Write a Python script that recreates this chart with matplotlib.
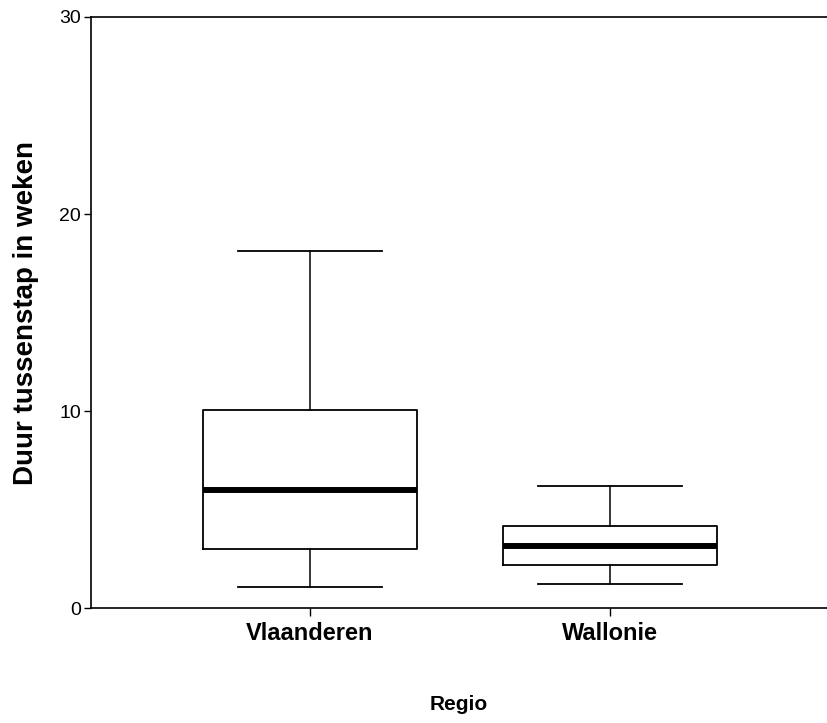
import matplotlib.pyplot as plt

plt.rcParams['font.family'] = ['Liberation Sans', 'DejaVu Sans']

regions = ["Vlaanderen", "Wallonie"]
whisker_low = [1.07, 1.2]
q1 = [3.0, 2.2]
median = [6.0, 3.15]
q3 = [10.05, 4.15]
whisker_high = [18.1, 6.2]
y_ticks = [0, 10, 20, 30]

stats = [
    {"label": r, "whislo": lo, "q1": a, "med": m, "q3": b, "whishi": hi}
    for r, lo, a, m, b, hi in zip(regions, whisker_low, q1, median, q3, whisker_high)
]

fig = plt.figure(figsize=(8.27, 7.23), dpi=100)
ax = fig.add_axes([0.110, 0.159, 0.89, 0.8175])

ax.bxp(stats, positions=[1, 2], widths=0.713, capwidths=0.48, showfliers=False,
       boxprops=dict(color="black", linewidth=1.3),
       whiskerprops=dict(color="black", linewidth=1.1),
       capprops=dict(color="black", linewidth=1.3),
       medianprops=dict(color="black", linewidth=4.3, solid_capstyle="butt"))

ax.set_xlim(0.27, 2.723)
ax.set_ylim(0, 30)
ax.set_yticks(y_ticks)
ax.set_yticklabels([str(t) for t in y_ticks], fontsize=14)
ax.set_xticks([1, 2])
ax.set_xticklabels(regions, fontsize=17, fontweight="bold")
ax.tick_params(axis="y", length=5, width=1, pad=2)
ax.tick_params(axis="x", length=6, width=1, pad=4)

for side in ["top", "left", "bottom"]:
    ax.spines[side].set_linewidth(1.2)
ax.spines["right"].set_visible(False)

ax.set_ylabel("Duur tussenstap in weken", fontsize=20, fontweight="bold", labelpad=15)
ax.set_xlabel("Regio", fontsize=15, fontweight="bold", labelpad=36)

fig.savefig("out.png", dpi=100)
